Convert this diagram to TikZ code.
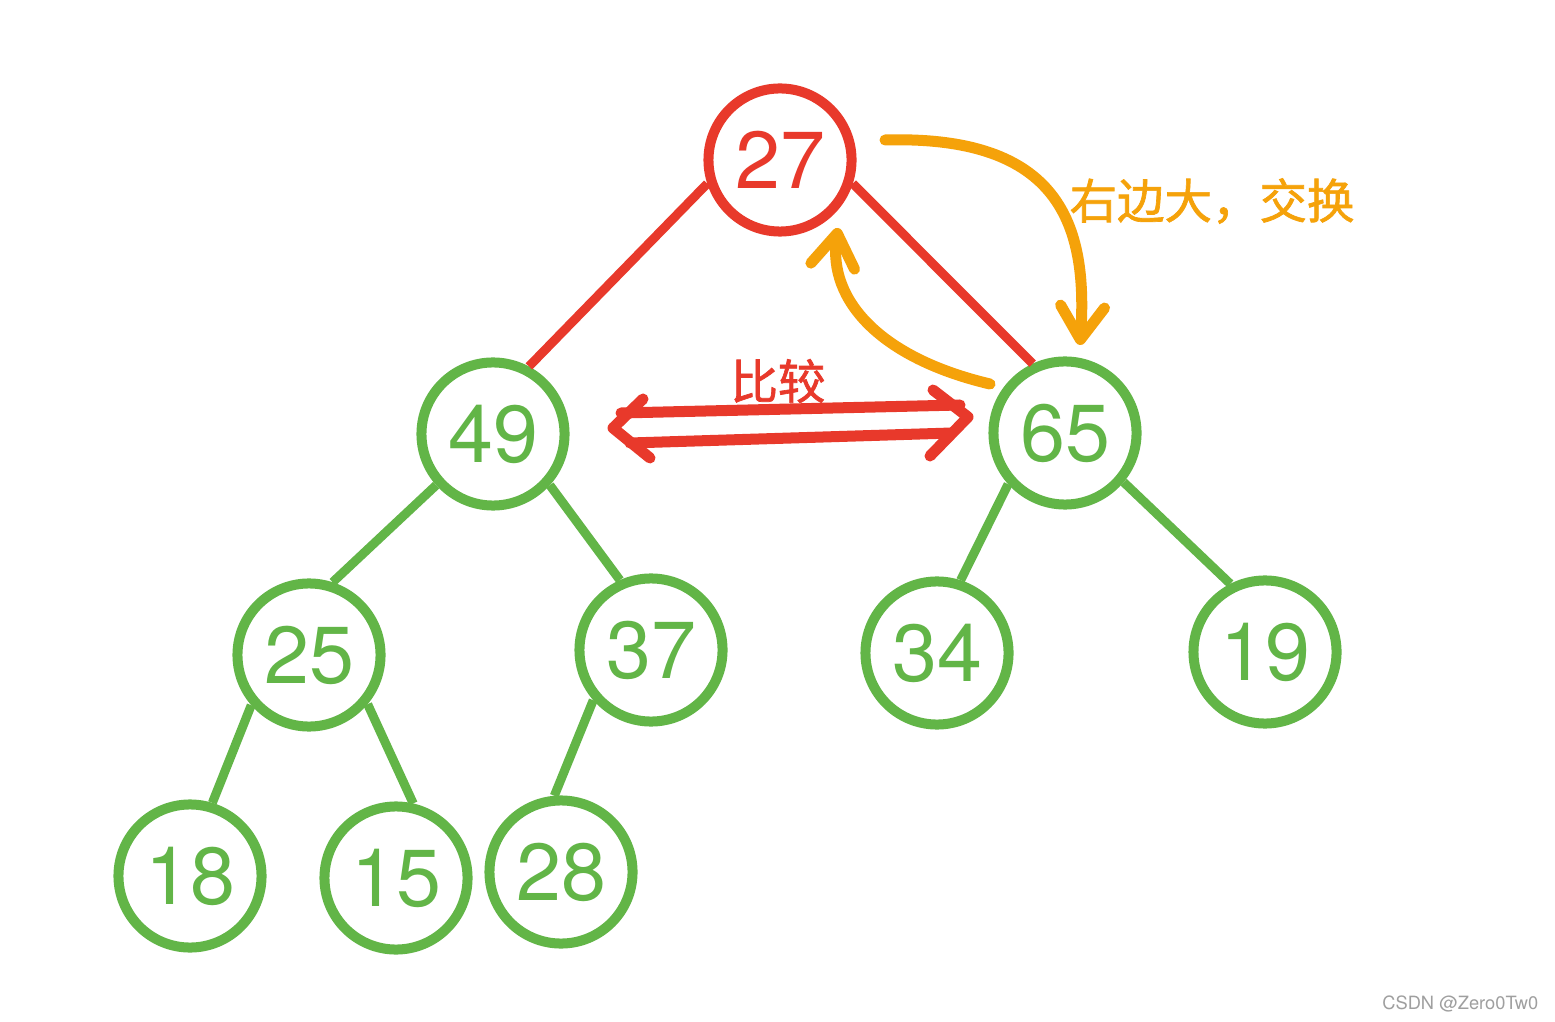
\documentclass[tikz,border=0pt]{standalone}
\usepackage{fontspec}
\setmainfont{TeX Gyre Heros}
\newfontfamily\cjk[FakeBold=1.4]{Noto Sans CJK SC}
\usepackage{xcolor}
\definecolor{heap_red}{HTML}{E8392B}
\definecolor{heap_green}{HTML}{62B547}
\definecolor{heap_orange}{HTML}{F5A20A}
\usetikzlibrary{arrows.meta,calc}
\tikzset{NODE/.style={circle,draw,line width=0.1cm,minimum size=1.43cm,inner sep=0pt,font=\fontsize{23}{23}\selectfont}}
\tikzset{NODE_RED/.style={NODE,draw=heap_red,text=heap_red}}
\tikzset{NODE_GREEN/.style={NODE,draw=heap_green,text=heap_green}}
\tikzset{EDGE_RED/.style={heap_red,line width=0.09cm}}
\tikzset{EDGE_GREEN/.style={heap_green,line width=0.09cm}}
\tikzset{SWAP/.style={heap_orange,line width=0.11cm,line cap=round,-{Straight Barb[length=3.3mm,width=4.4mm,line cap=round,line join=round]}}}
\tikzset{COMPARE/.style={heap_red,line width=0.11cm,line cap=round,line join=round}}
\tikzset{LABEL/.style={font=\cjk\fontsize{13.5}{13.5}\selectfont}}

\begin{document}
\begin{tikzpicture}[x=0.01cm,y=-0.01cm]
\useasboundingbox[fill=white] (0,0) rectangle (1555,1022);

\node[NODE_RED] (n_27) at (780,160) {27};
\node[NODE_GREEN] (n_49) at (493,434) {49};
\node[NODE_GREEN] (n_65) at (1065,433) {65};
\node[NODE_GREEN] (n_25) at (309,655) {25};
\node[NODE_GREEN] (n_37) at (651,650) {37};
\node[NODE_GREEN] (n_34) at (937,653) {34};
\node[NODE_GREEN] (n_19) at (1265,652) {19};
\node[NODE_GREEN] (n_18) at (190,876) {18};
\node[NODE_GREEN] (n_15) at (396,878) {15};
\node[NODE_GREEN] (n_28) at (561,872) {28};

\draw[EDGE_RED] (n_27.198) -- (n_49.62);
\draw[EDGE_RED] (n_27.342) -- (n_65.115);
\draw[EDGE_GREEN] (n_49.222) -- (n_25.72);
\draw[EDGE_GREEN] (n_49.318) -- (n_37.114);
\draw[EDGE_GREEN] (n_65.222) -- (n_34.72);
\draw[EDGE_GREEN] (n_65.320) -- (n_19.117);
\draw[EDGE_GREEN] (n_25.221) -- (n_18.73);
\draw[EDGE_GREEN] (n_25.320) -- (n_15.77);
\draw[EDGE_GREEN] (n_37.221) -- (n_28.95);

% swap arrows
\coordinate (c_swap_start) at (885,140);
\coordinate (c_swap_end) at (1080,345);
\draw[SWAP] (c_swap_start) .. controls (1060,135) and (1088,225) .. (c_swap_end);
\node[LABEL,text=heap_orange] (n_swap) at (1212,201) {右边大，交换};

\coordinate (c_back_start) at (990,384);
\coordinate (c_back_end) at (838,228);
\draw[SWAP] (c_back_start) .. controls (880,358) and (828,300) .. (c_back_end);

% compare arrow
\coordinate (c_cmp_left) at (613,428);
\coordinate (c_cmp_right) at (968,417);
\draw[COMPARE] (643,399) -- (c_cmp_left) -- (650,458);
\draw[COMPARE] (933,390) -- (c_cmp_right) -- (930,456);
\draw[COMPARE] ($(c_cmp_left)+(8,-15)$) -- ($(c_cmp_right)+(-8,-12)$);
\draw[COMPARE] ($(c_cmp_left)+(17,15)$) -- ($(c_cmp_right)+(-16,16)$);
\node[LABEL,text=heap_red] (n_cmp) at (778,381) {比较};

\node[font=\fontsize{5.2}{5.2}\selectfont,text=gray!75,anchor=east,inner sep=0pt] (n_mark) at (1539,1004) {CSDN @Zero0Tw0};
\end{tikzpicture}
\end{document}
